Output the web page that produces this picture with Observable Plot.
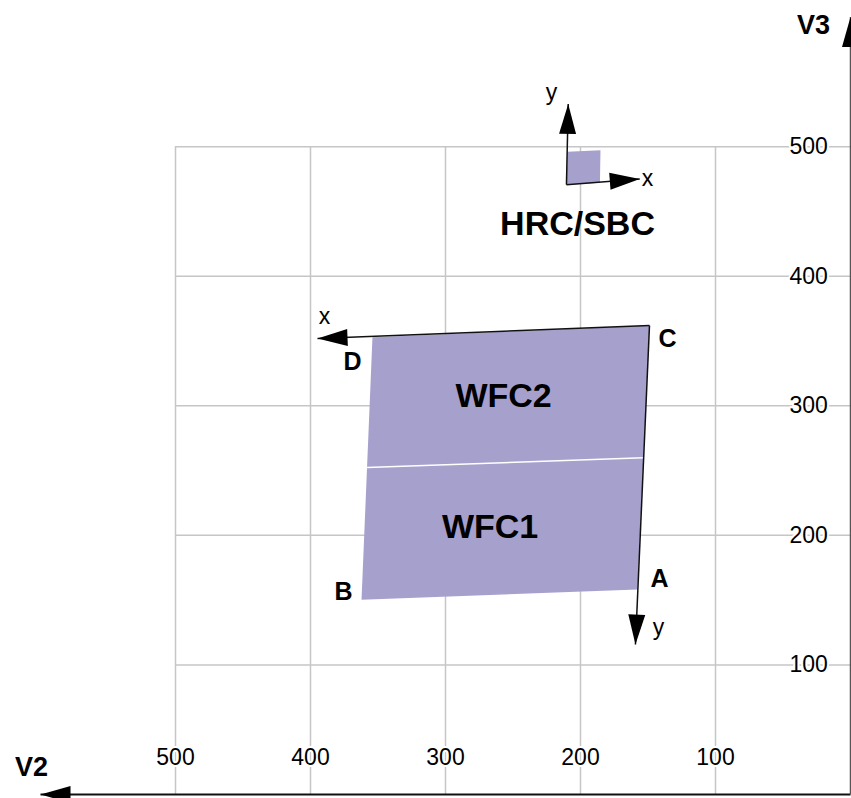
<!DOCTYPE html>
<html><head><meta charset="utf-8">
<script src="https://cdn.jsdelivr.net/npm/d3@7"></script>
<script src="https://cdn.jsdelivr.net/npm/@observablehq/plot@0.6"></script>
<style>html,body{margin:0;padding:0;background:#fff;overflow:hidden}</style>
</head><body><div id="chart"></div>
<script>
// ---- data (V2, V3 in arcsec) ----
const gridTicks = [100, 200, 300, 400, 500];
const tickLabels = ["100", "200", "300", "400", "500"];
const axisEnd = 600;

// WFC outline corners
const wfcNames = ["D", "C", "A", "B"];
const wfcV2 = [354.1, 148.9, 157.8, 362.2];
const wfcV3 = [353.0, 361.9, 158.2, 150.3];
// WFC1 / WFC2 boundary
const chipGapV2 = [358.1, 153.3];
const chipGapV3 = [252.3, 260.0];

// HRC/SBC square corners (BL, BR, TR, TL)
const hrcV2 = [210.4, 185.6, 185.2, 209.6];
const hrcV3 = [470.7, 472.2, 497.3, 496.1];

// axis arrows: origin -> tip
const arrowNames = ["WFC x", "WFC y", "HRC x", "HRC y", "V2", "V3"];
const arrowFromV2 = [148.9, 148.9, 210.4, 210.4, 0, 0];
const arrowFromV3 = [361.9, 361.9, 470.7, 470.7, 0, 0];
const arrowTipV2 = [394.8, 159.3, 156.1, 209.1, 600, 0];
const arrowTipV3 = [351.9, 115.7, 475.1, 533.0, 0, 600];

// labels
const cornerLabelV2 = [368.9, 135.6, 141.5, 375.6];
const cornerLabelV3 = [334.1, 351.9, 166.7, 156.6];
const detNames = ["WFC2", "WFC1", "HRC/SBC"];
const detLabelV2 = [257.0, 267.0, 202.2];
const detLabelV3 = [307.5, 206.0, 440.6];
const axisLetters = ["x", "y", "x", "y"];
const axisLetterV2 = [389.6, 142.2, 150.4, 221.5];
const axisLetterV3 = [369.0, 128.9, 475.3, 541.7];
const axisNames = ["V2", "V3"];
const axisNameV2 = [606.7, 27.4];
const axisNameV3 = [20.8, 594.0];

// ---- scales ----
const xDomain = [0, 600], xRange = [850, 40];
const yDomain = [0, 600], yRange = [794, 16.6];
const sx = d3.scaleLinear(xDomain, xRange);
const sy = d3.scaleLinear(yDomain, yRange);

const wfcPoly = wfcV2.map((v, i) => ({v, w: wfcV3[i]}));
const hrcPoly = hrcV2.map((v, i) => ({v, w: hrcV3[i]}));
const arrows = arrowNames.map((name, i) => {
  const dx = sx(arrowTipV2[i]) - sx(arrowFromV2[i]);
  const dy = sy(arrowTipV3[i]) - sy(arrowFromV3[i]);
  return {name, v1: arrowFromV2[i], w1: arrowFromV3[i], v2: arrowTipV2[i], w2: arrowTipV3[i],
          angle: Math.atan2(dx, -dy) * 180 / Math.PI};
});
const gap = [{v1: chipGapV2[0], w1: chipGapV3[0], v2: chipGapV2[1], w2: chipGapV3[1]}];
const corners = wfcNames.map((t, i) => ({t, v: cornerLabelV2[i], w: cornerLabelV3[i]}));
const dets = detNames.map((t, i) => ({t, v: detLabelV2[i], w: detLabelV3[i]}));
const letters = axisLetters.map((t, i) => ({t, v: axisLetterV2[i], w: axisLetterV3[i]}));
const axNames = axisNames.map((t, i) => ({t, v: axisNameV2[i], w: axisNameV3[i]}));
const ticks = gridTicks.map((d, i) => ({d, label: tickLabels[i]}));

const arrowHead = {
  draw(ctx) {
    ctx.moveTo(0, 0);
    ctx.lineTo(8.5, 30);
    ctx.lineTo(-8.5, 30);
    ctx.closePath();
  }
};

const purple = "#a6a0cd";
const grid = "#c6c6c6";
const font = "Liberation Sans, Arial, Helvetica, sans-serif";

const chart = Plot.plot({
  width: 851,
  height: 798,
  margin: 0,
  style: {fontFamily: font, background: "white"},
  x: {domain: xDomain, range: xRange, axis: null},
  y: {domain: yDomain, range: yRange, axis: null},
  marks: [
    Plot.ruleX(gridTicks, {x: d => d, y1: 0, y2: 500, stroke: grid, strokeWidth: 1.5}),
    Plot.ruleY(gridTicks, {y: d => d, x1: 500, x2: 0, stroke: grid, strokeWidth: 1.5}),
    Plot.line(wfcPoly, {x: "v", y: "w", curve: "linear-closed", fill: purple, stroke: "none"}),
    Plot.line(hrcPoly, {x: "v", y: "w", curve: "linear-closed", fill: purple, stroke: "none"}),
    Plot.link(gap, {x1: "v1", y1: "w1", x2: "v2", y2: "w2", stroke: "white", strokeWidth: 1.5}),
    Plot.link(arrows, {x1: "v1", y1: "w1", x2: "v2", y2: "w2",
      stroke: d => d.name === "V3" ? "#555" : "#111", strokeWidth: d => d.name === "V2" ? 2 : 1.5}),
    Plot.dot(arrows, {x: "v2", y: "w2", symbol: arrowHead, rotate: "angle", fill: "black", stroke: "none"}),
    Plot.text(corners, {x: "v", y: "w", text: "t", fontSize: 25, fontWeight: "bold", fill: "black"}),
    Plot.text(dets, {x: "v", y: "w", text: "t", fontSize: 34, fontWeight: "bold", fill: "black"}),
    Plot.text(letters, {x: "v", y: "w", text: "t", fontSize: 23, fill: "black"}),
    Plot.text(axNames, {x: "v", y: "w", text: "t", fontSize: 27, fontWeight: "bold", fill: "black"}),
    Plot.text(ticks, {x: "d", y: 28.5, text: "label", fontSize: 23, fill: "black", stroke: "white", strokeWidth: 4}),
    Plot.text(ticks, {x: 31, y: "d", text: "label", fontSize: 23, fill: "black", stroke: "white", strokeWidth: 4})
  ]
});
document.getElementById("chart").appendChild(chart);
</script>
</body></html>
